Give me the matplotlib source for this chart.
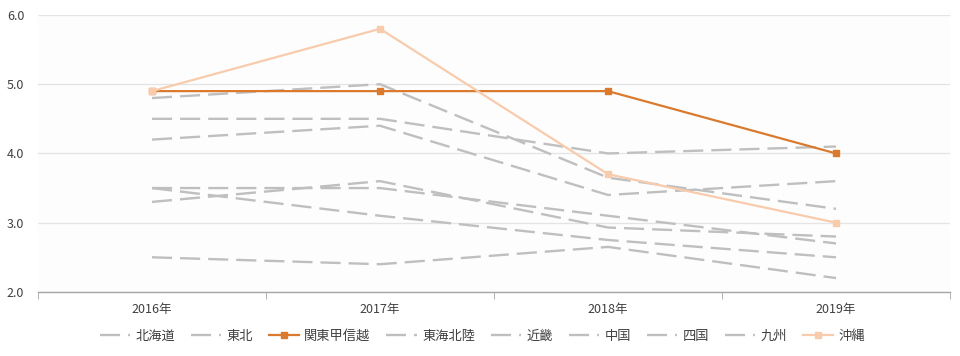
import matplotlib.pyplot as plt
from matplotlib.ticker import FixedLocator

plt.rcParams['font.family'] = ['Noto Sans CJK JP', 'DejaVu Sans']

years = ['2016年', '2017年', '2018年', '2019年']

hokkaido = [4.8, 5.0, 3.65, 3.2]
tohoku = [4.5, 4.5, 4.0, 4.1]
kanto = [4.9, 4.9, 4.9, 4.0]
tokai_hokuriku = [4.2, 4.4, 3.4, 3.6]
kinki = [3.5, 3.5, 3.1, 2.7]
chugoku = [3.3, 3.6, 2.93, 2.8]
shikoku = [3.5, 3.1, 2.75, 2.5]
kyushu = [2.5, 2.4, 2.65, 2.2]
okinawa = [4.9, 5.8, 3.7, 3.0]

gray = '#bfbfbf'
orange = '#d97a2f'
peach = '#f8cbad'

fig = plt.figure(figsize=(9.6, 3.56), dpi=100)
ax = fig.add_axes([0.0396, 0.18, 0.95, 0.778])
ax.set_facecolor('#fdfdfd')

x = list(range(len(years)))
dash = (8.5, 3.4)

series = [
    ('北海道', hokkaido), ('東北', tohoku), ('関東甲信越', kanto),
    ('東海北陸', tokai_hokuriku), ('近畿', kinki), ('中国', chugoku),
    ('四国', shikoku), ('九州', kyushu), ('沖縄', okinawa),
]

for name, vals in series:
    if name == '関東甲信越':
        ax.plot(x, vals, color=orange, lw=1.6, marker='s', ms=5,
                label=name, zorder=3)
    elif name == '沖縄':
        ax.plot(x, vals, color=peach, lw=1.6, marker='s', ms=5,
                label=name, zorder=4)
    else:
        ax.plot(x, vals, color=gray, lw=1.7, dashes=dash,
                label=name, zorder=2)

ax.set_ylim(2.0, 6.0)
ax.set_xlim(-0.5, 3.5)
ax.set_yticks([2.0, 3.0, 4.0, 5.0, 6.0])
ax.set_yticklabels(['2.0', '3.0', '4.0', '5.0', '6.0'])
ax.set_xticks(x)
ax.set_xticklabels(years)
ax.xaxis.set_minor_locator(FixedLocator([-0.5, 0.5, 1.5, 2.5, 3.5]))
ax.tick_params(axis='x', which='major', length=0, pad=8, labelsize=9,
               labelcolor='#404040')
ax.tick_params(axis='x', which='minor', length=5, color='#a6a6a6')
ax.tick_params(axis='y', length=0, pad=10, labelsize=9, labelcolor='#404040')

ax.grid(axis='y', color='#e4e4e4', lw=0.9, zorder=0)
for s in ['top', 'right', 'left']:
    ax.spines[s].set_visible(False)
ax.spines['bottom'].set_color('#a6a6a6')
ax.spines['bottom'].set_linewidth(1.0)

leg = ax.legend(loc='upper center', bbox_to_anchor=(0.487, -0.095), ncol=9,
                frameon=False, fontsize=9.5, handlelength=2.3,
                columnspacing=1.2, handletextpad=0.4)
for t in leg.get_texts():
    t.set_color('#404040')

fig.savefig('out.png', dpi=100)
